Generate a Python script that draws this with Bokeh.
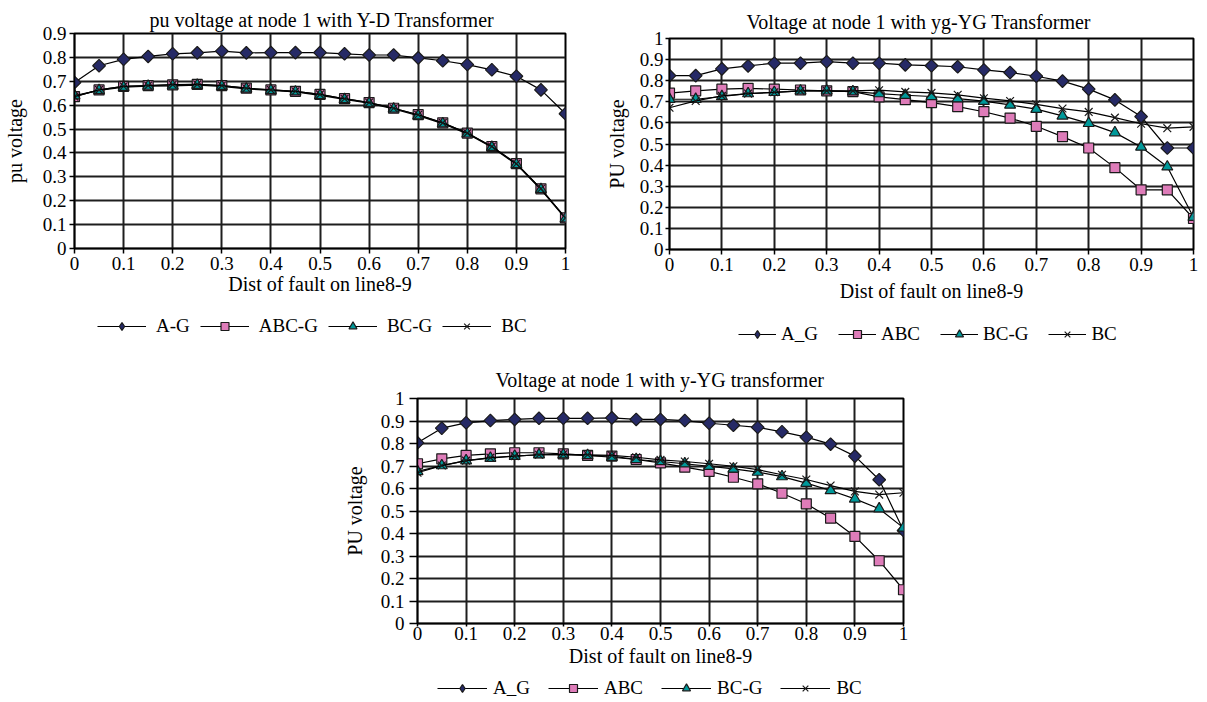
from bokeh.plotting import figure
from bokeh.models import (Legend, LegendItem, FixedTicker, Range1d, Spacer,
                          NumeralTickFormatter, Title)
from bokeh.layouts import row, column
from bokeh.embed import file_html
from bokeh.resources import INLINE

FONT = "Liberation Serif"

# ---------------- data ----------------
dist = [0.0, 0.05, 0.1, 0.15, 0.2, 0.25, 0.3, 0.35, 0.4, 0.45, 0.5,
        0.55, 0.6, 0.65, 0.7, 0.75, 0.8, 0.85, 0.9, 0.95, 1.0]
xticks = [0, 0.1, 0.2, 0.3, 0.4, 0.5, 0.6, 0.7, 0.8, 0.9, 1.0]
yticks_09 = [0, 0.1, 0.2, 0.3, 0.4, 0.5, 0.6, 0.7, 0.8, 0.9]
yticks_10 = [0, 0.1, 0.2, 0.3, 0.4, 0.5, 0.6, 0.7, 0.8, 0.9, 1.0]

# Chart 1: Y-D transformer
yd_ag = [0.695, 0.765, 0.792, 0.804, 0.815, 0.819, 0.826, 0.819, 0.820, 0.820, 0.820,
         0.815, 0.810, 0.810, 0.798, 0.786, 0.770, 0.748, 0.721, 0.664, 0.564]
yd_abcg = [0.636, 0.664, 0.679, 0.682, 0.685, 0.687, 0.682, 0.671, 0.664, 0.658, 0.645,
           0.627, 0.611, 0.587, 0.560, 0.526, 0.483, 0.427, 0.355, 0.250, 0.128]
yd_bcg = [0.640, 0.662, 0.675, 0.680, 0.681, 0.684, 0.679, 0.668, 0.662, 0.656, 0.641,
          0.624, 0.608, 0.584, 0.556, 0.523, 0.480, 0.424, 0.352, 0.247, 0.125]
yd_bc = [0.636, 0.664, 0.679, 0.682, 0.686, 0.687, 0.682, 0.671, 0.664, 0.658, 0.645,
         0.627, 0.611, 0.587, 0.560, 0.526, 0.483, 0.427, 0.355, 0.250, 0.128]

# Chart 2: yg-YG transformer
ygyg_ag = [0.824, 0.824, 0.856, 0.870, 0.883, 0.883, 0.890, 0.883, 0.883, 0.875, 0.871,
           0.866, 0.851, 0.839, 0.821, 0.798, 0.760, 0.709, 0.630, 0.481, 0.481]
ygyg_abc = [0.741, 0.752, 0.760, 0.764, 0.760, 0.756, 0.752, 0.748, 0.723, 0.710, 0.696,
            0.677, 0.653, 0.623, 0.584, 0.535, 0.481, 0.388, 0.283, 0.283, 0.147]
ygyg_bcg = [0.712, 0.712, 0.725, 0.739, 0.745, 0.752, 0.752, 0.748, 0.739, 0.731, 0.725,
            0.715, 0.703, 0.685, 0.665, 0.633, 0.598, 0.554, 0.486, 0.392, 0.153]
ygyg_bc = [0.672, 0.704, 0.728, 0.739, 0.745, 0.752, 0.752, 0.752, 0.755, 0.747, 0.742,
           0.733, 0.717, 0.704, 0.688, 0.668, 0.652, 0.625, 0.596, 0.575, 0.581]

# Chart 3: y-YG transformer
yyg_ag = [0.803, 0.868, 0.892, 0.902, 0.907, 0.912, 0.912, 0.912, 0.914, 0.907, 0.907,
          0.902, 0.890, 0.881, 0.872, 0.852, 0.828, 0.797, 0.744, 0.639, 0.413]
yyg_abc = [0.710, 0.732, 0.747, 0.754, 0.759, 0.759, 0.754, 0.747, 0.744, 0.729, 0.714,
           0.695, 0.676, 0.650, 0.621, 0.579, 0.532, 0.468, 0.387, 0.279, 0.150]
yyg_bcg = [0.676, 0.702, 0.724, 0.735, 0.744, 0.750, 0.750, 0.747, 0.739, 0.729, 0.720,
           0.710, 0.699, 0.687, 0.673, 0.653, 0.624, 0.591, 0.554, 0.510, 0.425]
yyg_bc = [0.670, 0.702, 0.724, 0.737, 0.744, 0.750, 0.752, 0.750, 0.747, 0.739, 0.727,
          0.720, 0.710, 0.699, 0.684, 0.661, 0.640, 0.613, 0.587, 0.573, 0.581]

names_1 = ["A-G", "ABC-G", "BC-G", "BC"]
names_2 = ["A_G", "ABC", "BC-G", "BC"]

NAVY = "#262a66"
PINK = "#de7cb9"
TEAL = "#00999a"
EDGE = "#1a1a1a"

STYLES = [
    dict(marker="square", size=9, angle=0.785398, fill_color=NAVY, line_color=EDGE),
    dict(marker="square", size=10, angle=0.0, fill_color=PINK, line_color=EDGE),
    dict(marker="triangle", size=11, angle=0.0, fill_color=TEAL, line_color=EDGE),
    dict(marker="x", size=11, angle=0.0, fill_color=None, line_color=EDGE),
]
# legend swatches (legend glyphs ignore marker angle, so use a true diamond there)
LEGEND_STYLES = [
    dict(marker="diamond", size=15, angle=0.0, fill_color=NAVY, line_color=EDGE),
    STYLES[1], STYLES[2], STYLES[3],
]


def add_series(p, xs, series, styles):
    pairs = []
    for vals, st in zip(series, styles):
        ln = p.line(xs, vals, line_color="black", line_width=1.2)
        mk = p.scatter(xs, vals, marker=st["marker"], size=st["size"], angle=st["angle"],
                       fill_color=st["fill_color"], line_color=st["line_color"], line_width=1.2)
        pairs.append((ln, mk))
    return pairs


def make_chart(title, ylabel, ytop, yticks, series, fw, fh, borders,
               title_offset, title_standoff, xax, yax):
    l, r, t, b = borders
    p = figure(frame_width=fw, frame_height=fh, x_range=Range1d(0, 1), y_range=Range1d(0, ytop),
               output_backend="svg", toolbar_location=None,
               min_border_left=l, min_border_right=r, min_border_top=t, min_border_bottom=b)
    p.title = Title(text=title, align="left", offset=title_offset, standoff=title_standoff,
                    text_font=FONT, text_font_size="20px", text_font_style="normal",
                    text_color="black")
    p.background_fill_color = "white"
    p.border_fill_color = "white"
    p.outline_line_color = "black"
    p.outline_line_width = 2

    p.xaxis.ticker = FixedTicker(ticks=xticks)
    p.yaxis.ticker = FixedTicker(ticks=yticks)
    for ax in (p.xaxis, p.yaxis):
        ax.formatter = NumeralTickFormatter(format="0.[0]")
        ax.axis_line_color = "black"
        ax.axis_line_width = 1.5
        ax.major_tick_line_color = "black"
        ax.major_tick_line_width = 1.5
        ax.major_tick_in = 0
        ax.minor_tick_line_color = None
        ax.major_label_text_font = FONT
        ax.major_label_text_font_size = "19px"
        ax.major_label_text_color = "black"
        ax.axis_label_text_font = FONT
        ax.axis_label_text_font_size = "20px"
        ax.axis_label_text_font_style = "normal"
        ax.axis_label_text_color = "black"
    p.xaxis.axis_label = "Dist of fault on line8-9"
    p.yaxis.axis_label = ylabel
    p.xaxis.major_tick_out = xax[0]
    p.xaxis.major_label_standoff = xax[1]
    p.xaxis.axis_label_standoff = xax[2]
    p.yaxis.major_tick_out = yax[0]
    p.yaxis.major_label_standoff = yax[1]
    p.yaxis.axis_label_standoff = yax[2]

    for g in (p.xgrid, p.ygrid):
        g.grid_line_color = "#1e1e1e"
        g.grid_line_width = 2

    add_series(p, dist, series, STYLES)
    return p


def make_legend_fig(names, series, width, height, loc, glyph_w, standoff, spacing):
    # the series are attached to this legend-only panel but lie outside its
    # y-range, so only the legend entries show
    lf = figure(width=width, height=height, x_range=Range1d(0, 1), y_range=Range1d(-20, -19),
                output_backend="svg", toolbar_location=None, title=None,
                x_axis_type=None, y_axis_type=None, min_border=0)
    lf.outline_line_color = None
    lf.background_fill_color = "white"
    lf.border_fill_color = "white"
    pairs = add_series(lf, dist, series, LEGEND_STYLES)
    items = [LegendItem(label=n, renderers=[ln, mk]) for n, (ln, mk) in zip(names, pairs)]
    legend = Legend(items=items, orientation="horizontal", location=loc,
                    glyph_width=glyph_w, glyph_height=20, label_standoff=standoff,
                    spacing=spacing, padding=0, margin=0,
                    border_line_color=None, background_fill_alpha=0,
                    label_text_font=FONT, label_text_font_size="19px",
                    label_text_color="black")
    lf.add_layout(legend, "center")
    return lf


s1 = [yd_ag, yd_abcg, yd_bcg, yd_bc]
s2 = [ygyg_ag, ygyg_abc, ygyg_bcg, ygyg_bc]
s3 = [yyg_ag, yyg_abc, yyg_bcg, yyg_bc]

p1 = make_chart("pu voltage at node 1 with  Y-D Transformer", "pu voltage", 0.9, yticks_09,
                s1, 491, 215, (74, 35, 33, 52), 75, 6,
                (5, 3, 0), (5, 3, 14))
l1 = make_legend_fig(names_1, s1, 600, 45, (23, 8), 49, 10, 10)

p2 = make_chart("Voltage at node 1 with yg-YG Transformer", "PU voltage", 1.0, yticks_10,
                s2, 524, 211, (69, 14, 38, 51), 77, 12,
                (5, 3, 6), (4, 2, 9))
l2 = make_legend_fig(names_2, s2, 607, 41, (69, 0), 38, 5, 20)

p3 = make_chart("Voltage at node 1 with y-YG transformer", "PU voltage", 1.0, yticks_10,
                s3, 486, 225, (77, 60, 53, 49), 78, 15,
                (3, 0, 2), (8, 5, 12))
l3 = make_legend_fig(names_2, s3, 623, 30, (20, 3), 50, 6, 18)

layout = column(row(column(p1, l1), column(p2, l2)),
                row(Spacer(width=340, height=357), column(p3, l3)))

open("out.html", "w").write(file_html(layout, INLINE))
